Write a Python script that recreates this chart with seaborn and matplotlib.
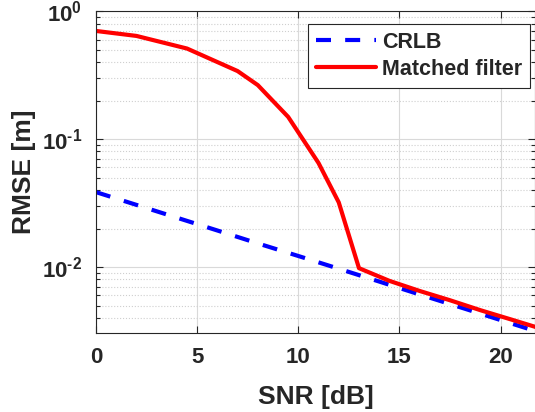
import matplotlib
matplotlib.use("Agg")
import numpy as np
import matplotlib.pyplot as plt
import matplotlib.ticker as mticker
import pandas as pd
import seaborn as sns

# values
snr_crlb = [0, 2, 4, 6, 8, 10, 12, 14, 16, 18, 20, 22]
rmse_crlb = [0.0385, 0.0306, 0.0243, 0.0193, 0.0153, 0.0122,
             0.0097, 0.0077, 0.0061, 0.00485, 0.00385, 0.00306]

snr_mf = [0, 2, 4.5, 7, 8, 9.5, 11, 12, 13, 14.5, 16, 17.5, 19, 20.5, 22]
rmse_mf = [0.70, 0.64, 0.51, 0.34, 0.264, 0.149, 0.065, 0.032, 0.0098,
           0.0078, 0.0065, 0.0055, 0.0046, 0.0039, 0.0033]

sns.set_theme(style="ticks")
plt.rcParams["font.family"] = ["Liberation Sans", "DejaVu Sans"]
plt.rcParams["font.weight"] = "bold"
plt.rcParams["axes.unicode_minus"] = False
plt.rcParams["mathtext.fontset"] = "custom"
plt.rcParams["mathtext.bf"] = "Liberation Sans:bold"
plt.rcParams["mathtext.rm"] = "Liberation Sans:bold"
plt.rcParams["mathtext.default"] = "bf"

df = pd.concat([
    pd.DataFrame({"snr": snr_crlb, "rmse": rmse_crlb, "method": "CRLB"}),
    pd.DataFrame({"snr": snr_mf, "rmse": rmse_mf, "method": "Matched filter"}),
], ignore_index=True)


def pow10_label(v, pos):
    e = int(round(np.log10(v)))
    sup = str(e) if e >= 0 else r"\text{-}" + str(-e)
    return r"$10^{" + sup + "}$"


fig = plt.figure(figsize=(5.35, 4.12), dpi=100)
ax = fig.add_axes([0.1794, 0.1917, 0.8206, 0.7813])

sns.lineplot(data=df, x="snr", y="rmse", hue="method", style="method",
             palette={"CRLB": "#0000ff", "Matched filter": "#ff0000"},
             dashes={"CRLB": (3.6, 3.4), "Matched filter": ""},
             linewidth=3, ax=ax, legend=False)

ax.set_yscale("log")
ax.set_xlim(0, 21.7)
ax.set_ylim(0.00305, 1)
ax.set_xticks([0, 5, 10, 15, 20])
ax.yaxis.set_major_locator(mticker.LogLocator(base=10, numticks=10))
ax.yaxis.set_major_formatter(mticker.FuncFormatter(pow10_label))
ax.yaxis.set_minor_locator(mticker.LogLocator(base=10, subs=range(2, 10), numticks=10))
ax.yaxis.set_minor_formatter(mticker.NullFormatter())

ax.grid(True, which="major", color="#d9d9d9", linewidth=0.8)
ax.grid(True, which="minor", axis="y", color="#cfcfcf", linestyle=":", linewidth=0.8)

ax.tick_params(which="both", direction="in", top=True, right=True,
               colors="#262626", labelsize=16, width=0.8)
ax.tick_params(which="major", length=5, pad=10)
ax.tick_params(which="minor", length=3)
for lab in ax.get_xticklabels() + ax.get_yticklabels():
    lab.set_fontweight("bold")
for sp in ax.spines.values():
    sp.set_color("#262626")
    sp.set_linewidth(0.8)

ax.set_xlabel("SNR [dB]", fontsize=19, fontweight="bold", color="#262626", labelpad=12)
ax.set_ylabel("RMSE [m]", fontsize=19, fontweight="bold", color="#262626", labelpad=4)

handles = [
    plt.Line2D([], [], color="#0000ff", lw=3, dashes=(3.6, 3.4)),
    plt.Line2D([], [], color="#ff0000", lw=3),
]
leg = ax.legend(handles, ["CRLB", "Matched filter"], loc="upper right",
                bbox_to_anchor=(0.9907, 0.9417), bbox_transform=fig.transFigure,
                handlelength=2.8, frameon=True, fancybox=False,
                borderaxespad=0, labelspacing=0.3, handletextpad=0.3,
                borderpad=0.35, prop={"weight": "bold", "size": 15.5})
leg.get_frame().set_edgecolor("#262626")
leg.get_frame().set_linewidth(0.8)
leg.get_frame().set_alpha(1)

fig.savefig("out.png", dpi=100)
